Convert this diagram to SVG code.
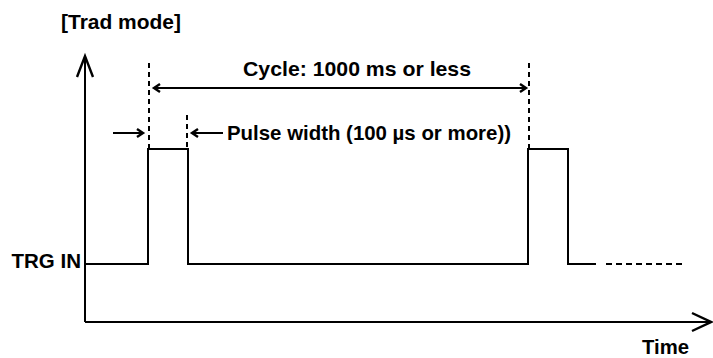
<svg xmlns="http://www.w3.org/2000/svg" width="713" height="358" viewBox="0 0 713 358">
<style>
.ln{fill:none;stroke:#000;stroke-width:2;stroke-linejoin:miter;stroke-linecap:butt}
.ah{fill:none;stroke:#000;stroke-width:2.4;stroke-linejoin:miter}
.dv{fill:none;stroke:#000;stroke-width:2;stroke-dasharray:5,4}
.t{font-family:"Liberation Sans",Arial,sans-serif;font-weight:bold;font-size:20.5px;fill:#000}
</style>
<rect width="713" height="358" fill="#fff"/>
<g id="labels">
<text class="t" x="61" y="29" textLength="120" lengthAdjust="spacingAndGlyphs">[Trad mode]</text>
<text class="t" x="81" y="268" text-anchor="end">TRG IN</text>
<text class="t" x="642" y="354" textLength="47" lengthAdjust="spacingAndGlyphs">Time</text>
</g>
<g id="axes">
<path class="ln" d="M85,322 V57"/>
<path class="ah" d="M77,77 L85,56 L93,77"/>
<path class="ln" d="M85,322 H710"/>
<path class="ah" d="M692,313 L711,322 L692,331"/>
</g>
<g id="signal">
<path class="ln" d="M85,264 H148 V149 H188 V264 H528 V149 H568 V264 H596"/>
<path class="ln" d="M606,264 H684" stroke-dasharray="6,4"/>
</g>
<g id="connectors">
<path class="dv" d="M149,63 V148"/>
<path class="dv" d="M187,115 V148"/>
<path class="dv" d="M529,63 V148"/>
<path class="ln" d="M154,88 H526"/>
<path class="ah" d="M160,84 L154,88 L160,92"/>
<path class="ah" d="M520,84 L526,88 L520,92"/>
<path class="ln" d="M113,133 H142"/>
<path class="ah" d="M137,129 L143,133 L137,137"/>
<path class="ln" d="M193,133 H223"/>
<path class="ah" d="M198,129 L192,133 L198,137"/>
</g>
<g id="dimension-labels">
<text class="t" x="243" y="76" textLength="228" lengthAdjust="spacingAndGlyphs">Cycle: 1000 ms or less</text>
<text class="t" x="227" y="140" textLength="284" lengthAdjust="spacingAndGlyphs">Pulse width (100 µs or more))</text>
</g>
</svg>
